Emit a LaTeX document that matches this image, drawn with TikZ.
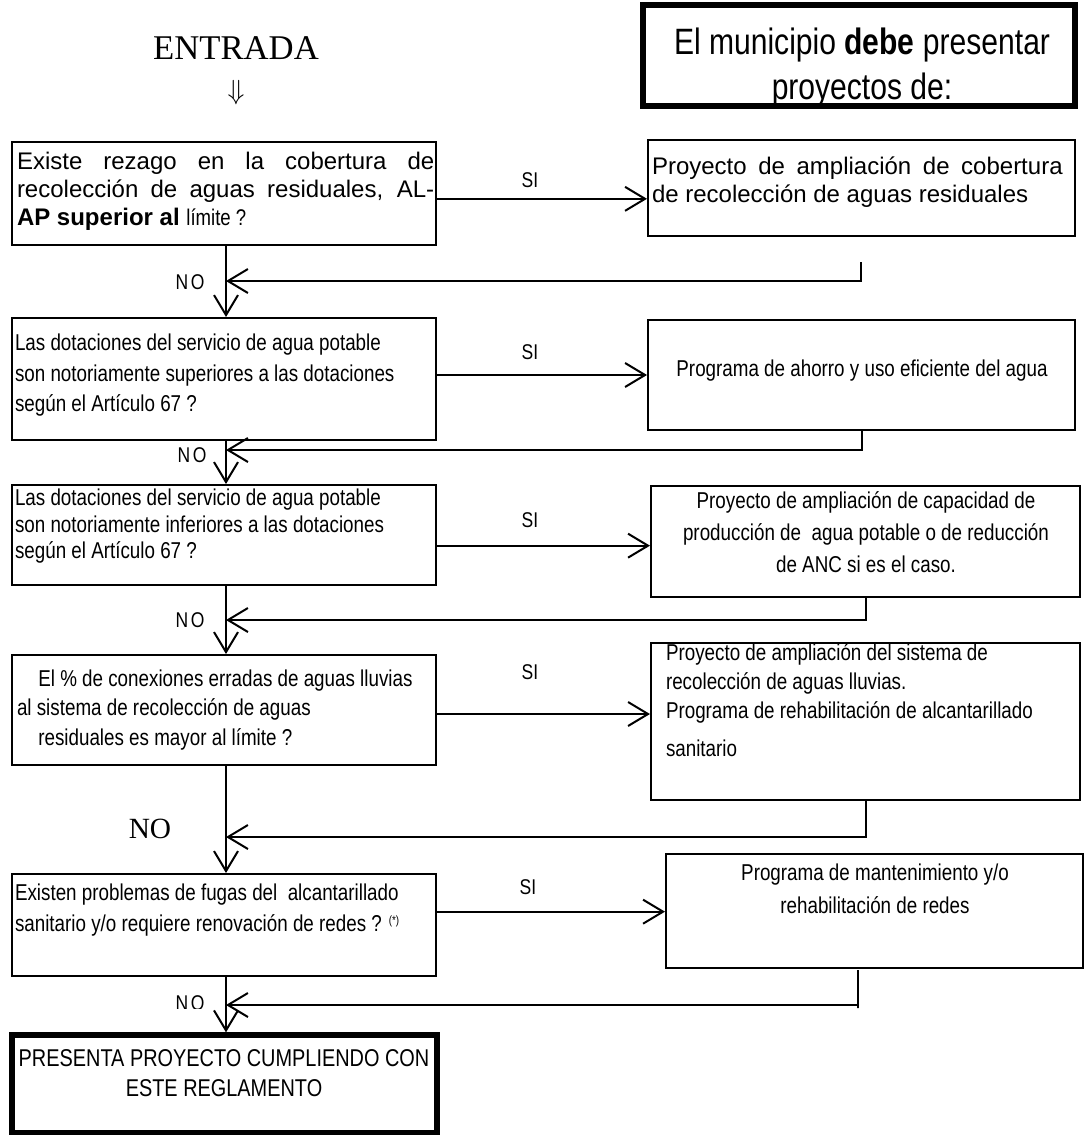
\documentclass[tikz,border=0pt]{standalone}
\usepackage{fontspec}
\setmainfont{Liberation Sans}
\newfontfamily\narrowfont[FakeStretch=0.82]{Liberation Sans}
\newfontfamily\timesfont{Liberation Serif}
\usetikzlibrary{fit}
\usetikzlibrary{positioning}
\usetikzlibrary{arrows.meta}
\tikzset{
  qbox/.style={draw, inner sep=0pt},
  bigbox/.style={draw, line width=4pt, inner sep=0pt},
  qtext/.style={anchor=north west, inner sep=0pt, align=left,
    font=\narrowfont\fontsize{17.2}{23}\selectfont},
  ctext/.style={anchor=north, inner sep=0pt, align=center,
    font=\narrowfont\fontsize{17.2}{23}\selectfont},
  wtext/.style={anchor=north west, inner sep=0pt, align=left,
    font=\fontsize{18}{21}\selectfont},
  lbl/.style={inner sep=0pt, font=\narrowfont\fontsize{16}{18}\selectfont}
}
\def\nolbl{N\kern2pt O}

\begin{document}
\begin{tikzpicture}[x=0.75pt, y=-0.75pt, line width=1.5pt,
  >={Straight Barb[length=15pt,width=18pt]}]

\useasboundingbox (0,0) rectangle (1083,1135);
\coordinate (spine) at (226,0);

% entrada
\node[font=\timesfont\fontsize{26}{30}\selectfont, inner sep=0pt] (entrada) at (236,48) {ENTRADA};
\node[font=\fontsize{22}{26}\selectfont, inner sep=0pt, below=14pt of entrada] (flecha) {$\Downarrow$};

% encabezado
\node[bigbox, fit={(643,5) (1075,106)}] (head) {};
\node[ctext, font=\narrowfont\fontsize{27.5}{34}\selectfont] (headt) at (862,27)
  {El municipio \textbf{debe} presentar\\proyectos de:};

% preguntas
\node[qbox, fit={(12,142) (436,245)}] (q1) {};
\node[qbox, fit={(12,318) (436,440)}] (q2) {};
\node[qbox, fit={(12,485) (436,585)}] (q3) {};
\node[qbox, fit={(12,655) (436,765)}] (q4) {};
\node[qbox, fit={(12,874) (436,976)}] (q5) {};
\node[bigbox, fit={(12,1035) (437,1133)}] (fin) {};

\node[wtext] (q1t) at (16,151)
  {\makebox[313pt][s]{Existe rezago en la cobertura de}\\
   \makebox[313pt][s]{recolección de aguas residuales, AL-}\\
   \textbf{AP superior al} {\narrowfont\fontsize{17}{21}\selectfont límite ?}};
\node[qtext] (q2t) at (14,333)
  {Las dotaciones del servicio de agua potable\\
   son notoriamente superiores a las dotaciones\\
   según el Artículo 67 ?};
\node[qtext, font=\narrowfont\fontsize{17.2}{20}\selectfont] (q3t) at (14,488)
  {Las dotaciones del servicio de agua potable\\
   son notoriamente inferiores a las dotaciones\\
   según el Artículo 67 ?};
\node[qtext, font=\narrowfont\fontsize{17.2}{22}\selectfont] (q4t) at (16,669)
  {\hspace*{16pt}El \% de conexiones erradas de aguas lluvias\\
   al sistema de recolección de aguas\\
   \hspace*{16pt}residuales es mayor al límite ?};
\node[qtext] (q5t) at (14,883)
  {Existen problemas de fugas del\ \ alcantarillado\\
   sanitario y/o requiere renovación de redes ? {\fontsize{9}{9}\selectfont\raisebox{5pt}{(*)}}};
\node[ctext, font=\narrowfont\fontsize{18.2}{22.5}\selectfont] (fint) at (224,1049)
  {PRESENTA PROYECTO CUMPLIENDO CON\\ESTE REGLAMENTO};

% proyectos
\node[qbox, fit={(648,140) (1075,236)}] (p1) {};
\node[qbox, fit={(648,320) (1075,430)}] (p2) {};
\node[qbox, fit={(651,486) (1080,597)}] (p3) {};
\node[qbox, fit={(651,643) (1080,800)}] (p4) {};
\node[qbox, fit={(666,854) (1083,968)}] (p5) {};

\node[wtext] (p1t) at (651,156)
  {\makebox[308pt][s]{Proyecto de ampliación de cobertura}\\
   de recolección de aguas residuales};
\node[ctext] (p2t) at (862,359) {Programa de ahorro y uso eficiente del agua};
\node[ctext, font=\narrowfont\fontsize{17.2}{24}\selectfont] (p3t) at (866,491)
  {Proyecto de ampliación de capacidad de\\
   producción de\ \ agua potable o de reducción\\
   de ANC si es el caso.};
\node[qtext, font=\narrowfont\fontsize{17.2}{21.5}\selectfont] (p4t) at (665,643)
  {Proyecto de ampliación del sistema de\\
   recolección de aguas lluvias.\\
   Programa de rehabilitación de alcantarillado\\[7pt]
   sanitario};
\node[ctext, font=\narrowfont\fontsize{17.2}{25}\selectfont] (p5t) at (875,863)
  {Programa de mantenimiento y/o\\rehabilitación de redes};

% SI
\draw[->] ([yshift=-4pt]q1.east) -- ([yshift=-4pt]q1.east -| p1.west);
\draw[->] ([yshift=3pt]q2.east) -- ([yshift=3pt]q2.east -| p2.west);
\draw[->] ([yshift=-8pt]q3.east) -- ([yshift=-8pt]q3.east -| p3.west);
\draw[->] ([yshift=-3pt]q4.east) -- ([yshift=-3pt]q4.east -| p4.west);
\draw[->] ([yshift=10pt]q5.east) -- ([yshift=10pt]q5.east -| p5.west);
\node[lbl] (si1) at (530,180) {SI};
\node[lbl] (si2) at (530,352) {SI};
\node[lbl] (si3) at (530,520) {SI};
\node[lbl] (si4) at (530,672) {SI};
\node[lbl] (si5) at (528,887) {SI};

% NO
\draw[->] (q1.south -| spine) -- (q2.north -| spine);
\draw[->] (q2.south -| spine) -- (q3.north -| spine);
\draw[->] (q3.south -| spine) -- (q4.north -| spine);
\draw[->] (q4.south -| spine) -- (q5.north -| spine);
\draw[->] (q5.south -| spine) -- (fin.north -| spine);
\node[lbl] (no1) at (190,282) {\nolbl};
\node[lbl] (no2) at (192,455) {\nolbl};
\node[lbl] (no3) at (190,620) {\nolbl};
\node[font=\timesfont\fontsize{22}{24}\selectfont, inner sep=0pt] (no4) at (150,829) {NO};
\begin{scope}
  \clip (150,985) rectangle (220,1008);
  \node[lbl] (no5) at (190,1003) {\nolbl};
\end{scope}

% retorno
\coordinate (r1) at (861,262);
\coordinate (r5) at (858,970);
\coordinate (j1) at (226,281);
\coordinate (j2) at (226,450);
\coordinate (j3) at (226,620);
\coordinate (j4) at (226,837);
\coordinate (j5) at (226,1005);
\draw[->] (r1) |- (j1);
\draw[->] (p2.south) |- (j2);
\draw[->] (p3.south) |- (j3);
\draw[->] (p4.south) |- (j4);
\draw[->] (r5) -- ++(0,38) |- (j5);

\end{tikzpicture}
\end{document}
